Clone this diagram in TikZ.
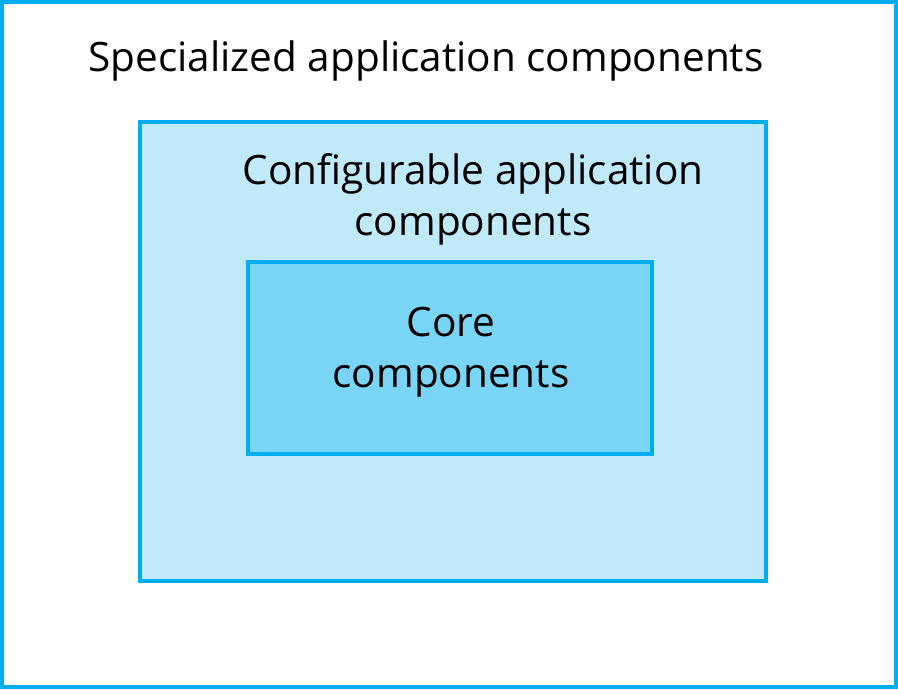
\documentclass[tikz,border=0pt]{standalone}
\usepackage{fontspec}
\setmainfont{Open Sans}
\usetikzlibrary{positioning}

\definecolor{edgeblue}{HTML}{00AEEF}
\definecolor{midfill}{HTML}{C0EAF9}
\definecolor{corefill}{HTML}{7AD4F5}

\tikzset{
    layer/.style={draw=edgeblue, line width=3.5pt},
    label/.style={font=\fontsize{40.5}{51}\selectfont, align=center, inner sep=0pt}
}

\begin{document}
\begin{tikzpicture}[x=1pt, y=-1pt]
    \useasboundingbox (0,0) rectangle (898,689);
    % layers
    \draw[layer, fill=white] (2,2) rectangle (896,687);
    \draw[layer, fill=midfill] (140,122) rectangle (766,581);
    \draw[layer, fill=corefill] (248,262) rectangle (652,454);
    % labels
    \node[label] (spec) at (426,61) {Specialized application components};
    \node[label] (conf) at (473,199) {Configurable application\\components};
    \node[label] (core) at (451,352) {Core\\components};
\end{tikzpicture}
\end{document}
